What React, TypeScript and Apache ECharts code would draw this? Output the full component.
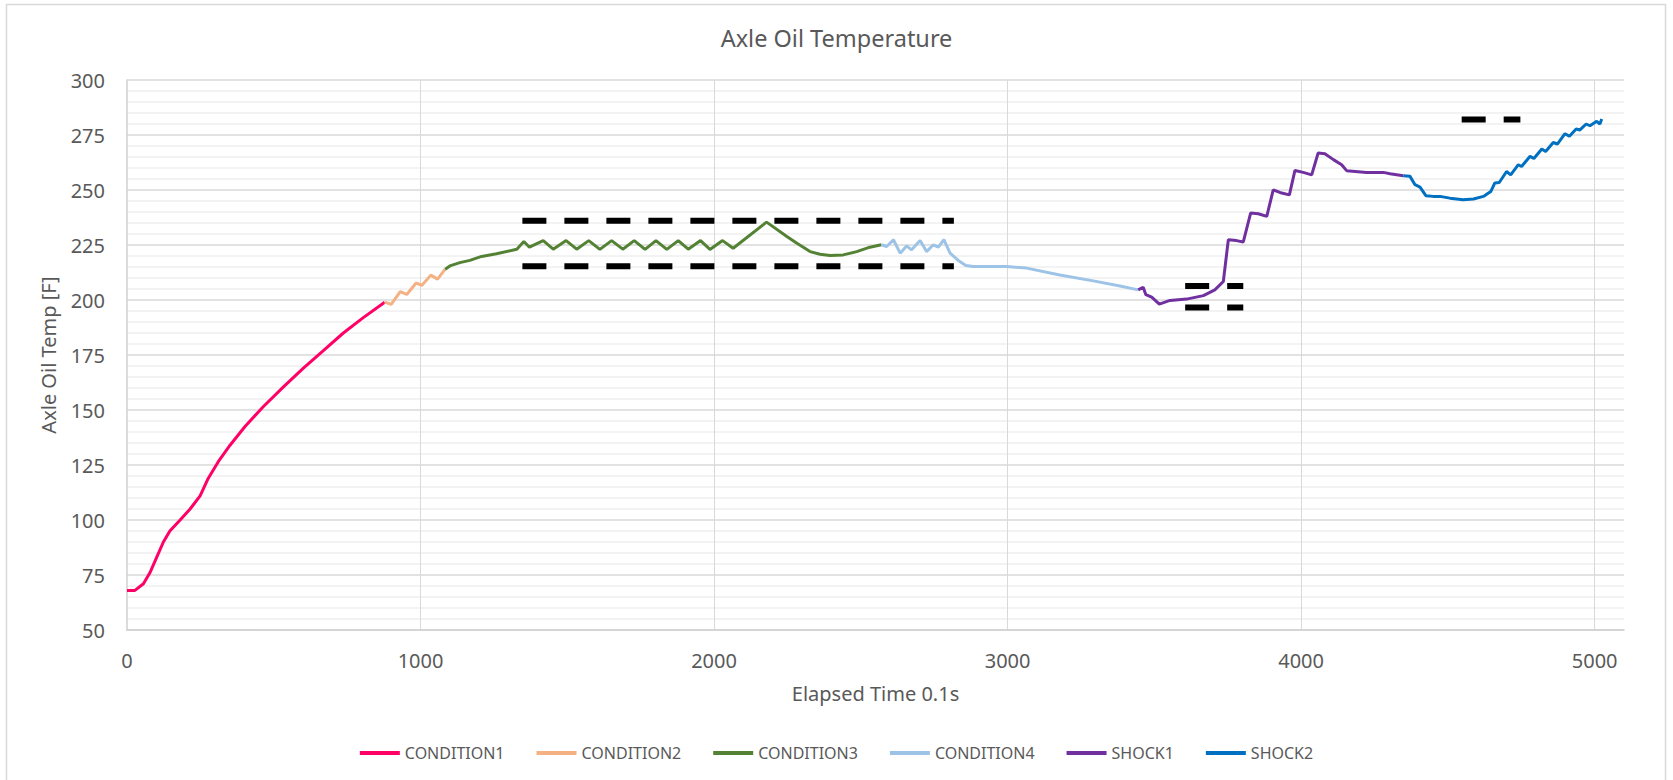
import React, { useEffect, useRef } from "react";
import * as echarts from "echarts";

// ---- data (time in 0.1 s, temperature in F) ----
const cond1T = [0, 27, 56, 78, 101, 124, 146, 181, 215, 249, 277, 311, 351, 402, 464, 533, 601, 669, 737, 805, 878];
const cond1V = [68, 68, 71, 76, 83, 90, 95, 100, 105, 111, 119, 126.5, 134, 142.5, 151.5, 160.5, 169, 177, 185, 192, 199];

const cond2T = [878, 900, 931, 953, 985, 1005, 1035, 1058, 1084];
const cond2V = [199, 198, 203.8, 202.5, 207.7, 206.7, 211.3, 209.5, 214];

const cond3T = [1084, 1100, 1134, 1168, 1208, 1259, 1328, 1352, 1371, 1418, 1452, 1496, 1532, 1573, 1611, 1651, 1689, 1728, 1765, 1802, 1839, 1878, 1912, 1954, 1986, 2029, 2065, 2179, 2248, 2281, 2327, 2361, 2395, 2440, 2486, 2531, 2570];
const cond3V = [214, 215.5, 217, 218, 219.8, 221, 223.1, 226.6, 224, 227, 223.1, 227, 223.1, 227, 223, 227, 223.1, 227, 223, 227, 223, 227, 223.1, 227, 223, 227, 223.5, 235.4, 228.9, 225.9, 222, 220.8, 220.2, 220.5, 222, 224, 225.1];

const cond4T = [2570, 2588, 2611, 2634, 2656, 2673, 2702, 2724, 2747, 2764, 2783, 2804, 2832, 2858, 2883, 2997, 3065, 3178, 3292, 3383, 3445];
const cond4V = [225.1, 224.3, 227.4, 221.3, 224.6, 222.8, 227, 222, 225.1, 224, 227.4, 221.3, 218, 215.7, 215.2, 215.2, 214.5, 211.4, 208.7, 206.4, 204.6];

const shock1T = [3445, 3462, 3471, 3491, 3517, 3553, 3610, 3667, 3706, 3735, 3752, 3780, 3803, 3828, 3854, 3883, 3905, 3934, 3960, 3979, 4007, 4036, 4058, 4081, 4110, 4138, 4155, 4223, 4280, 4303, 4348];
const shock1V = [204.6, 205.8, 202.4, 201.3, 198.1, 199.8, 200.4, 202, 204.6, 208.4, 227.4, 227, 226.4, 239.5, 239.2, 238, 250.1, 248.6, 247.8, 258.9, 258, 256.9, 266.8, 266.5, 263.8, 261.5, 258.8, 258, 258, 257.4, 256.5];

const shock2T = [4348, 4371, 4388, 4405, 4425, 4450, 4473, 4507, 4552, 4587, 4621, 4646, 4660, 4675, 4700, 4714, 4740, 4751, 4780, 4793, 4820, 4833, 4859, 4873, 4899, 4914, 4937, 4950, 4971, 4984, 5007, 5018, 5024];
const shock2V = [256.5, 256.2, 252.4, 251.3, 247.4, 247.1, 247.1, 246.3, 245.6, 245.9, 247.1, 249.3, 253.2, 253.4, 258.4, 256.9, 261.5, 260.7, 265.3, 264.3, 268.6, 267.5, 271.6, 270.9, 275.6, 274.4, 277.7, 277.3, 280, 279.2, 281.2, 280, 282.3];

// limit bands: time range and limit values
const limitBand1 = [1347, 2817];
const limitBand1Values = [236, 215.3];
const limitBand2 = [3605, 3803];
const limitBand2Values = [206.4, 196.6];
const limitBand3 = [4547, 4747];
const limitBand3Values = [282.1];

const seriesNames = ["CONDITION1", "CONDITION2", "CONDITION3", "CONDITION4", "SHOCK1", "SHOCK2"];
const seriesColors = ["#FF0066", "#F4B183", "#548235", "#9DC3E6", "#7030A0", "#0070C0"];
const seriesT = [cond1T, cond2T, cond3T, cond4T, shock1T, shock2T];
const seriesV = [cond1V, cond2V, cond3V, cond4V, shock1V, shock2V];

const TEXT = "#595959";
const FONT = "Noto Sans";

function zip(t: number[], v: number[]) {
  return t.map((x, i) => [x, v[i]]);
}

export default function App() {
  const ref = useRef<HTMLDivElement>(null);
  useEffect(() => {
    if (!ref.current) return;
    const chart = echarts.init(ref.current, null, { renderer: "svg" });

    const limitSeries: any[] = [];
    const addLimits = (range: number[], values: number[]) => {
      values.forEach((val) => {
        limitSeries.push({
          type: "line",
          name: "limit",
          data: [[range[0], val], [range[1], val]],
          symbol: "none",
          silent: true,
          z: 1,
          lineStyle: { color: "#000000", width: 6, type: [24, 18], cap: "butt" },
        });
      });
    };
    addLimits(limitBand1, limitBand1Values);
    addLimits(limitBand2, limitBand2Values);
    addLimits(limitBand3, limitBand3Values);

    const dataSeries = seriesNames.map((name, i) => ({
      type: "line",
      name,
      data: zip(seriesT[i], seriesV[i]),
      symbol: "none",
      showSymbol: false,
      z: 3,
      itemStyle: { color: seriesColors[i] },
      lineStyle: { color: seriesColors[i], width: 3 },
    }));

    chart.setOption({
      animation: false,
      backgroundColor: "#ffffff",
      textStyle: { fontFamily: FONT },
      title: {
        text: "Axle Oil Temperature",
        left: "center",
        top: 26,
        padding: 0,
        textStyle: { color: TEXT, fontSize: 23.5, fontWeight: "normal", fontFamily: FONT },
      },
      legend: {
        data: seriesNames,
        left: "center",
        top: 745,
        icon: "rect",
        itemWidth: 40,
        itemHeight: 4,
        itemGap: 32,
        padding: 0,
        textStyle: { color: TEXT, fontSize: 16, fontFamily: FONT },
      },
      grid: { left: 127, right: 49, top: 80, bottom: 150, containLabel: false },
      xAxis: {
        type: "value",
        min: 0,
        max: 5100,
        interval: 1000,
        name: "Elapsed Time 0.1s",
        nameLocation: "middle",
        nameGap: 53,
        nameTextStyle: { color: TEXT, fontSize: 20, fontFamily: FONT },
        axisLine: { show: true, lineStyle: { color: "#d0d0d0", width: 1.5 } },
        axisTick: { show: false },
        axisLabel: {
          color: TEXT,
          fontSize: 20,
          margin: 20,
          showMaxLabel: false,
          fontFamily: FONT,
          formatter: (v: number) => String(v),
        },
        splitLine: {
          show: true,
          lineStyle: { color: ["rgba(0,0,0,0)", "#d9d9d9", "#d9d9d9", "#d9d9d9", "#d9d9d9", "#d9d9d9", "rgba(0,0,0,0)"], width: 1 },
        },
      },
      yAxis: {
        type: "value",
        min: 50,
        max: 300,
        interval: 25,
        name: "Axle Oil Temp [F]",
        nameLocation: "middle",
        nameGap: 69,
        nameTextStyle: { color: TEXT, fontSize: 20, fontFamily: FONT },
        axisLine: { show: true, lineStyle: { color: "#d0d0d0", width: 1.5 } },
        axisTick: { show: false },
        axisLabel: { color: TEXT, fontSize: 20, margin: 22, fontFamily: FONT, formatter: (v: number) => String(v) },
        splitLine: { show: true, lineStyle: { color: "#d9d9d9", width: 1.5 } },
        minorTick: { show: false, splitNumber: 5 },
        minorSplitLine: { show: true, lineStyle: { color: "#efefef", width: 1.5 } },
      },
      graphic: [
        {
          type: "rect",
          shape: { x: 6.5, y: 4.5, width: 1659, height: 800 },
          style: { fill: "none", stroke: "#d9d9d9", lineWidth: 1.5 },
          silent: true,
          z: -1,
        },
      ],
      series: [...limitSeries, ...dataSeries],
    });
    return () => chart.dispose();
  }, []);
  return (
    <div
      ref={ref}
      style={{ position: "fixed", left: 0, top: 0, width: 1673, height: 780 }}
    />
  );
}
